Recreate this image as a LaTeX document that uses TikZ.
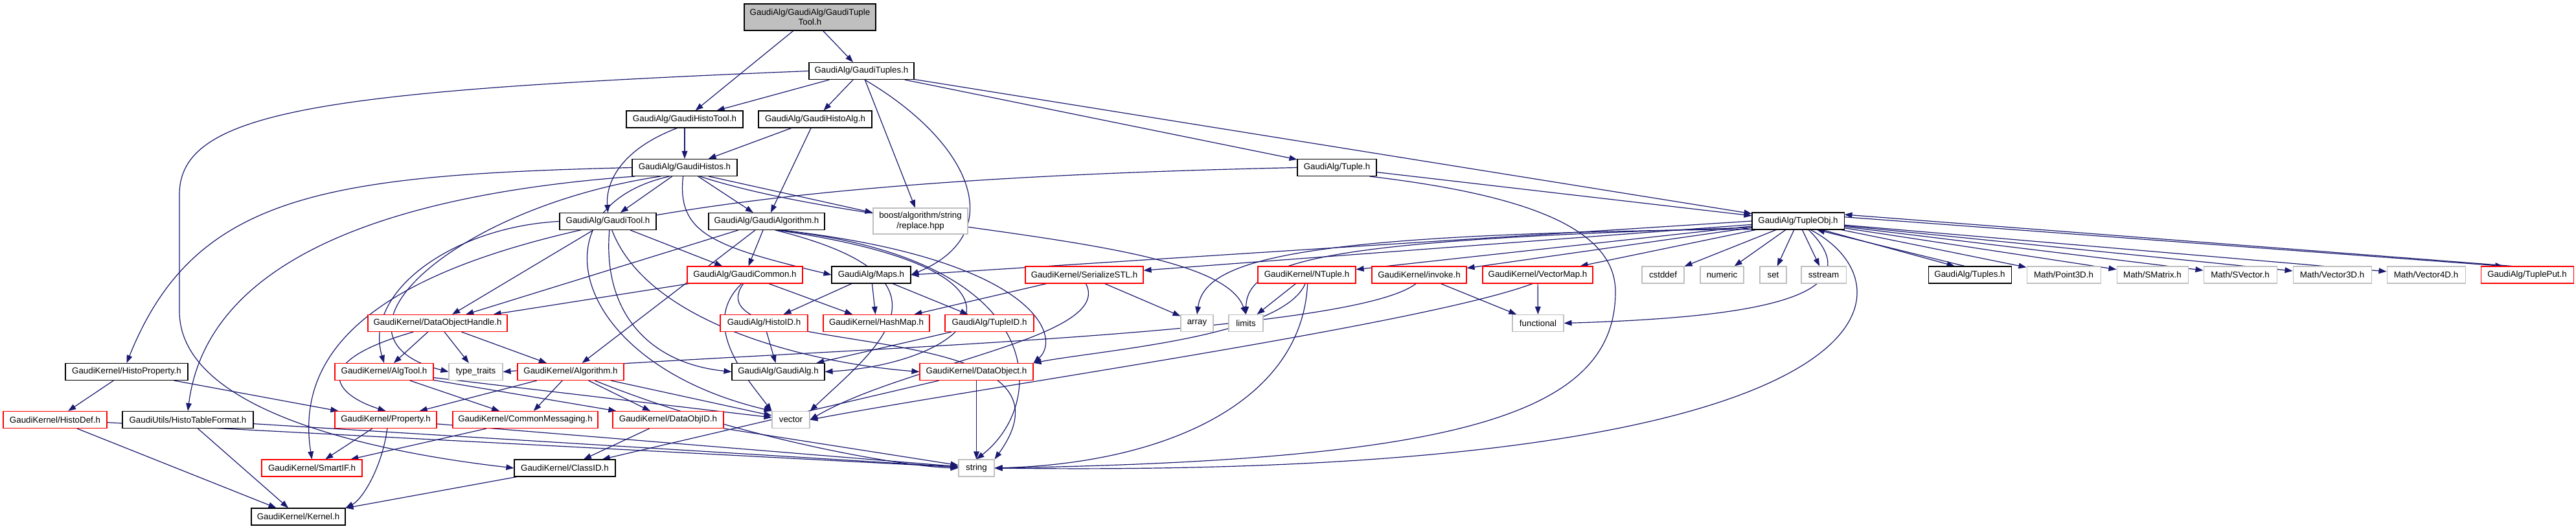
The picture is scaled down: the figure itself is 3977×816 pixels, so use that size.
\documentclass[tikz,border=0pt]{standalone}
\usepackage{fontspec}
\setmainfont{Liberation Sans}
\usepackage{tikz}
\usetikzlibrary{arrows.meta}
\definecolor{navy}{HTML}{191970}
\definecolor{docred}{HTML}{FF0000}
\definecolor{sysgray}{HTML}{BFBFBF}
\pgfdeclarelayer{background}
\pgfsetlayers{background,main}
\tikzset{
  box/.style={rectangle, fill=white, inner sep=0pt, minimum height=26*0.75pt,
    line width=0.8pt, font=\fontsize{10}{11.5}\selectfont},
  bw/.style={minimum width=#1*0.75pt},
  docnode/.style={box, draw=black},
  undocnode/.style={box, draw=docred},
  sysnode/.style={box, draw=sysgray},
  rootnode/.style={box, draw=black, fill=sysgray, align=center, minimum height=41*0.75pt},
  dep/.style={draw=navy, line width=0.9pt, -{Triangle[length=9pt,width=6.5pt]}}
}
\begin{document}
\begin{tikzpicture}[x=0.75pt,y=-0.75pt]
\useasboundingbox (0,0) rectangle (3977,816);

\node[rootnode,bw=203] (root) at (1250.5,26.5) {GaudiAlg/GaudiAlg/GaudiTuple\\Tool.h};
\node[docnode,bw=162] (gtuples) at (1330,109.5) {GaudiAlg/GaudiTuples.h};
\node[docnode,bw=180] (histotool) at (1057,184) {GaudiAlg/GaudiHistoTool.h};
\node[docnode,bw=175] (histoalg) at (1258.5,184) {GaudiAlg/GaudiHistoAlg.h};
\node[docnode,bw=162] (histos) at (1057,258.5) {GaudiAlg/GaudiHistos.h};
\node[docnode,bw=122] (tuple) at (2064,258.5) {GaudiAlg/Tuple.h};
\node[docnode,bw=149] (gtool) at (938.5,341.5) {GaudiAlg/GaudiTool.h};
\node[docnode,bw=179] (galgorithm) at (1183.5,341.5) {GaudiAlg/GaudiAlgorithm.h};
\node[sysnode,bw=146,align=center,minimum height=40*0.75pt] (replace) at (1421,341) {boost/algorithm/string\\/replace.hpp};
\node[docnode,bw=142] (tupleobj) at (2776,341) {GaudiAlg/TupleObj.h};

\node[undocnode,bw=178] (gcommon) at (1150,424) {GaudiAlg/GaudiCommon.h};
\node[docnode,bw=122] (maps) at (1345,424) {GaudiAlg/Maps.h};
\node[undocnode,bw=182] (serializestl) at (1674,424) {GaudiKernel/SerializeSTL.h};
\node[undocnode,bw=151] (ntuple) at (2017.5,424) {GaudiKernel/NTuple.h};
\node[undocnode,bw=146] (invoke) at (2191,424) {GaudiKernel/invoke.h};
\node[undocnode,bw=170] (vectormap) at (2374,424) {GaudiKernel/VectorMap.h};
\node[sysnode,bw=65] (cstddef) at (2567.5,424) {cstddef};
\node[sysnode,bw=67] (numeric) at (2658.5,424) {numeric};
\node[sysnode,bw=41] (set) at (2737.5,424) {set};
\node[sysnode,bw=69] (sstream) at (2815.5,424) {sstream};
\node[docnode,bw=128] (tuples) at (3041,424) {GaudiAlg/Tuples.h};
\node[sysnode,bw=114] (point3d) at (3186,424) {Math/Point3D.h};
\node[sysnode,bw=110] (smatrix) at (3323,424) {Math/SMatrix.h};
\node[sysnode,bw=113] (svector) at (3458.5,424) {Math/SVector.h};
\node[sysnode,bw=121] (vector3d) at (3600.5,424) {Math/Vector3D.h};
\node[sysnode,bw=121] (vector4d) at (3745.5,424) {Math/Vector4D.h};
\node[undocnode,bw=143] (tupleput) at (3901.5,424) {GaudiAlg/TuplePut.h};

\node[undocnode,bw=215] (dataobjhandle) at (675.5,498.5) {GaudiKernel/DataObjectHandle.h};
\node[undocnode,bw=135] (histoid) at (1179.5,498.5) {GaudiAlg/HistoID.h};
\node[undocnode,bw=164] (hashmap) at (1353,498.5) {GaudiKernel/HashMap.h};
\node[undocnode,bw=137] (tupleid) at (1527.5,498.5) {GaudiAlg/TupleID.h};
\node[sysnode,bw=50] (array) at (1848,498.5) {array};
\node[sysnode,bw=53] (limits) at (1923.5,498.5) {limits};
\node[sysnode,bw=79] (functional) at (2374.5,498.5) {functional};

\node[docnode,bw=189] (histoprop) at (195.5,573.5) {GaudiKernel/HistoProperty.h};
\node[undocnode,bw=152] (algtool) at (593,573.5) {GaudiKernel/AlgTool.h};
\node[sysnode,bw=83] (typetraits) at (734.5,573.5) {type\_traits};
\node[undocnode,bw=164] (algorithm) at (881,573.5) {GaudiKernel/Algorithm.h};
\node[docnode,bw=143] (gaudialg) at (1201.5,573.5) {GaudiAlg/GaudiAlg.h};
\node[undocnode,bw=175] (dataobject) at (1507.5,573.5) {GaudiKernel/DataObject.h};

\node[undocnode,bw=160] (histodef) at (85,647.5) {GaudiKernel/HistoDef.h};
\node[docnode,bw=202] (histotable) at (290,647.5) {GaudiUtils/HistoTableFormat.h};
\node[undocnode,bw=157] (property) at (595.5,647.5) {GaudiKernel/Property.h};
\node[undocnode,bw=224] (commonmsg) at (811,647.5) {GaudiKernel/CommonMessaging.h};
\node[undocnode,bw=171] (dataobjid) at (1031.5,647.5) {GaudiKernel/DataObjID.h};
\node[sysnode,bw=58] (vector) at (1221,647.5) {vector};

\node[undocnode,bw=155] (smartif) at (481.5,722) {GaudiKernel/SmartIF.h};
\node[docnode,bw=156] (classid) at (872,722) {GaudiKernel/ClassID.h};
\node[sysnode,bw=55] (string) at (1507.5,722) {string};

\node[docnode,bw=145] (kernel) at (460.5,797) {GaudiKernel/Kernel.h};

\begin{pgfonlayer}{background}
\fill[white] (0,0) rectangle (3977,816);
\draw[dep] (root) -- (histotool);
\draw[dep] (root) -- (gtuples);
\draw[dep] (gtuples) -- (histotool);
\draw[dep] (gtuples) -- (histoalg);
\draw[dep] (gtuples) -- (replace);
\draw[dep] (gtuples.-70) .. controls (1500,220) and (1560,360) .. (maps.east);
\draw[dep] (gtuples) -- (tuple);
\draw[dep] (gtuples) -- (tupleobj);
\draw[dep] (gtuples.west) .. controls (500,140) and (277,170) .. (277,300) -- (277,480) .. controls (277,640) and (600,700) .. (classid.west);
\draw[dep] (histotool) -- (histos);
\draw[dep] (histotool.-130) .. controls (960,230) and (935,280) .. (gtool.north);
\draw[dep] (histoalg) -- (histos);
\draw[dep] (histoalg) -- (galgorithm);
\draw[dep] (histos) -- (gtool);
\draw[dep] (histos) -- (galgorithm);
\draw[dep] (histos.-20) -- (replace.170);
\draw[dep] (histos.west) .. controls (500,270) and (300,300) .. (histoprop.north);
\draw[dep] (histos.190) .. controls (600,300) and (320,400) .. (histotable.north);
\draw[dep] (histos.200) .. controls (700,320) and (480,520) .. (typetraits.west);
\draw[dep] (histos.-100) .. controls (1045,360) and (1100,380) .. (maps.west);
\draw[dep] (histos.-30) .. controls (1350,360) and (1880,360) .. (limits.north);
\draw[dep] (histos.-150) .. controls (820,320) and (880,560) .. (vector.north west);
\draw[dep] (gtool) -- (dataobjhandle);
\draw[dep] (gtool) -- (gcommon);
\draw[dep] (gtool.west) .. controls (700,350) and (560,450) .. (algtool.north);
\draw[dep] (gtool.-80) .. controls (930,480) and (1000,560) .. (gaudialg.west);
\draw[dep] (gtool.-65) .. controls (1000,500) and (1250,560) .. (dataobject.west);
\draw[dep] (galgorithm) -- (gcommon);
\draw[dep] (galgorithm) -- (algorithm);
\draw[dep] (galgorithm) -- (dataobjhandle);
\draw[dep] (galgorithm.-40) .. controls (1650,420) and (1500,560) .. (gaudialg.east);
\draw[dep] (galgorithm.-45) .. controls (1500,430) and (1350,540) .. (vector.north east);
\draw[dep] (galgorithm.-35) .. controls (1620,400) and (1620,620) .. (string.north);
\draw[dep] (galgorithm.-30) .. controls (1600,400) and (1640,520) .. (dataobject.north east);
\draw[dep] (gcommon) -- (dataobjhandle);
\draw[dep] (gcommon) -- (hashmap);
\draw[dep] (gcommon.-110) .. controls (1080,500) and (1150,580) .. (vector.north west);
\draw[dep] (gcommon.-100) .. controls (1060,560) and (1700,480) .. (string.north east);
\draw[dep] (maps) -- (histoid);
\draw[dep] (maps) -- (hashmap);
\draw[dep] (maps) -- (tupleid);
\draw[dep] (serializestl) -- (hashmap);
\draw[dep] (serializestl) -- (array);
\draw[dep] (serializestl.-80) .. controls (1720,520) and (1400,560) .. (vector.east);
\draw[dep] (histoid) -- (gaudialg);
\draw[dep] (tupleid) -- (gaudialg);
\draw[dep] (dataobjhandle) -- (algtool);
\draw[dep] (dataobjhandle) -- (typetraits);
\draw[dep] (dataobjhandle) -- (algorithm);
\draw[dep] (dataobjhandle.200) .. controls (470,560) and (520,610) .. (property.north);
\draw[dep] (algtool) -- (commonmsg);
\draw[dep] (algtool) -- (dataobjid);
\draw[dep] (algtool) -- (vector);
\draw[dep] (algorithm) -- (property);
\draw[dep] (algorithm) -- (commonmsg);
\draw[dep] (algorithm) -- (dataobjid);
\draw[dep] (algorithm) -- (vector);
\draw[dep] (algorithm.-20) .. controls (1150,680) and (1400,720) .. (string.west);
\draw[dep] (histoprop) -- (histodef);
\draw[dep] (histoprop) -- (property);
\draw[dep] (histodef) -- (kernel);
\draw[dep] (histodef) -- (string);
\draw[dep] (histotable) -- (kernel);
\draw[dep] (histotable) -- (string);
\draw[dep] (property) -- (smartif);
\draw[dep] (property.-80) .. controls (590,720) and (560,770) .. (kernel.north east);
\draw[dep] (property) -- (string);
\draw[dep] (commonmsg) -- (smartif);
\draw[dep] (dataobjid) -- (classid);
\draw[dep] (dataobjid) -- (string);
\draw[dep] (classid) -- (kernel);
\draw[dep] (dataobject) -- (classid);
\draw[dep] (dataobject) -- (string);
\draw[dep] (tuple) -- (tupleobj);
\draw[dep] (tuple.-15) .. controls (2350,300) and (2494,350) .. (2494,450) .. controls (2494,640) and (2250,710) .. (string.east);
\draw[dep] (tuple.west) .. controls (1000,280) and (430,380) .. (smartif.north);
\foreach \n in {ntuple,invoke,vectormap,cstddef,numeric,set,sstream,point3d,smatrix,svector,vector3d,vector4d}
  \draw[dep] (tupleobj) -- (\n);
\draw[dep] (tupleobj) -- (serializestl);
\draw[dep] (tupleobj.west) -- (maps.east);
\draw[dep] (tupleobj.190) .. controls (2000,360) and (1860,400) .. (array.north);
\draw[dep] (tupleobj.188) .. controls (2050,370) and (1925,400) .. (limits.north);
\draw[dep] (tupleobj.-40) .. controls (2900,460) and (2700,490) .. (functional.east);
\draw[dep] (tupleobj.-35) .. controls (2960,440) and (2950,740) .. (string.east);
\draw[dep] (tupleobj.-20) -- (tuples.150);
\draw[dep] (tuples.120) -- (tupleobj.-25);
\draw[dep] (tupleobj.5) -- (tupleput.160);
\draw[dep] (tupleput.150) -- (tupleobj.8);
\draw[dep] (ntuple) -- (limits);
\draw[dep] (ntuple.-100) .. controls (1980,520) and (1700,540) .. (dataobject.north east);
\draw[dep] (ntuple.-85) .. controls (2010,620) and (1800,715) .. (string.east);
\draw[dep] (invoke) -- (functional);
\draw[dep] (invoke.-110) .. controls (2080,520) and (1200,540) .. (typetraits.east);
\draw[dep] (vectormap) -- (functional);
\draw[dep] (vectormap.-120) .. controls (2200,500) and (1500,600) .. (vector.east);
\end{pgfonlayer}
\end{tikzpicture}
\end{document}
